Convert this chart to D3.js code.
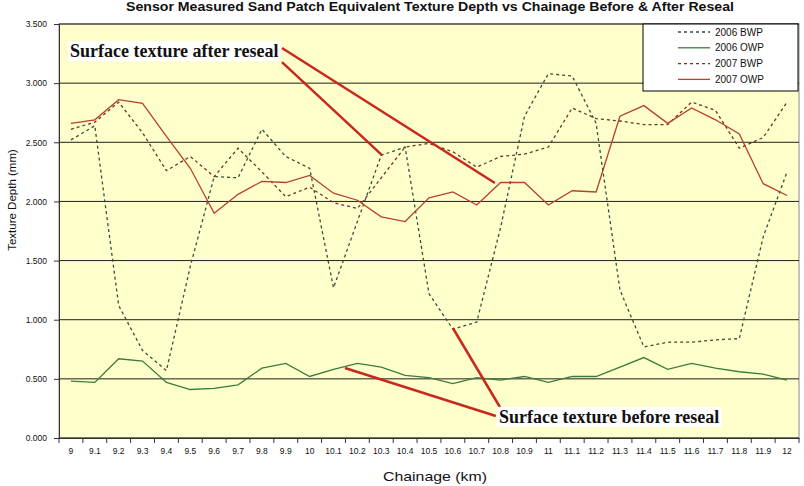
<!DOCTYPE html>
<html lang="en">
<head>
<meta charset="utf-8">
<script src="https://cdnjs.cloudflare.com/ajax/libs/d3/7.8.5/d3.min.js"></script>
<style>
    body { margin: 0; background: #fff; }
    svg { display: block; font-family: Arial, 'Liberation Sans', sans-serif; }
    .note { font-family: 'Times New Roman', 'Liberation Serif', serif; font-weight: bold; font-size: 18px; }
</style>
</head>
<body>
<svg width="804" height="486"></svg>
<script>
    // chainage categories (km) - also the x tick labels
    const chainage = ['9', '9.1', '9.2', '9.3', '9.4', '9.5', '9.6', '9.7', '9.8', '9.9',
        '10', '10.1', '10.2', '10.3', '10.4', '10.5', '10.6', '10.7', '10.8', '10.9',
        '11', '11.1', '11.2', '11.3', '11.4', '11.5', '11.6', '11.7', '11.8', '11.9', '12']

    // texture depth (mm)
    const bwp2006 = [2.52, 2.64, 1.12, 0.74, 0.57, 1.45, 2.21, 2.20, 2.61, 2.38,
        2.28, 1.27, 1.83, 2.39, 2.46, 1.22, 0.92, 0.98, 1.78, 2.72,
        3.08, 3.06, 2.66, 1.25, 0.77, 0.81, 0.81, 0.83, 0.84, 1.70, 2.25]
    const owp2006 = [0.48, 0.47, 0.67, 0.65, 0.47, 0.41, 0.42, 0.45, 0.59, 0.63,
        0.52, 0.58, 0.63, 0.60, 0.53, 0.51, 0.46, 0.51, 0.49, 0.52,
        0.47, 0.52, 0.52, 0.60, 0.68, 0.58, 0.63, 0.59, 0.56, 0.54, 0.49]
    const bwp2007 = [2.61, 2.67, 2.84, 2.58, 2.26, 2.38, 2.21, 2.45, 2.25, 2.04,
        2.12, 1.99, 1.94, 2.20, 2.46, 2.49, 2.42, 2.29, 2.38, 2.40,
        2.46, 2.79, 2.70, 2.68, 2.65, 2.65, 2.84, 2.77, 2.45, 2.54, 2.84]
    const owp2007 = [2.66, 2.69, 2.86, 2.83, 2.55, 2.28, 1.90, 2.06, 2.17, 2.16,
        2.22, 2.07, 2.01, 1.87, 1.83, 2.03, 2.08, 1.97, 2.16, 2.16,
        1.97, 2.09, 2.08, 2.72, 2.81, 2.66, 2.79, 2.69, 2.57, 2.15, 2.05]

    const yTicks = [0, 0.5, 1, 1.5, 2, 2.5, 3, 3.5]

    const series = [
        { name: '2006 BWP', values: bwp2006, color: '#34503a', dash: '3,3' },
        { name: '2006 OWP', values: owp2006, color: '#3a7d3a', dash: null },
        { name: '2007 BWP', values: bwp2007, color: '#6a3426', dash: '3,3' },
        { name: '2007 OWP', values: owp2007, color: '#b8402c', dash: null }
    ]

    // call-outs, positions in chart units (km, mm)
    const notes = [
        { text: 'Surface texture after reseal', km: 8.996, mm: 3.22,
          lines: [[9.884, 3.297, 10.776, 2.156], [9.884, 3.178, 10.303, 2.392]] },
        { text: 'Surface texture before reseal', km: 10.793, mm: 0.127,
          lines: [[10.797, 0.262, 10.600, 0.930], [10.780, 0.186, 10.148, 0.592]] }
    ]

    const plotL = 59, plotR = 799, plotT = 24, plotB = 438

    const svg = d3.select('svg')

    const x = d3.scaleBand().domain(chainage).range([plotL, plotR])
    const bw = x.bandwidth()
    const y = d3.scaleLinear().domain([0, 3.5]).range([plotB, plotT])
    const km = d3.scaleLinear().domain([9, 12]).range([x('9') + bw / 2, x('12') + bw / 2])

    // plot area
    svg.append('rect')
        .attr('x', plotL).attr('y', plotT)
        .attr('width', plotR - plotL).attr('height', plotB - plotT)
        .attr('fill', '#ffffcc')
        .attr('stroke', '#8a8a8a')

    svg.append('g')
        .selectAll('line')
        .data(yTicks)
        .enter()
        .append('line')
        .attr('x1', plotL).attr('x2', plotR)
        .attr('y1', d => y(d)).attr('y2', d => y(d))
        .attr('stroke', '#1e1e1e')
        .attr('stroke-width', 1)

    // x axis: labels centred in bands, ticks on band edges
    const xAxis = d3.axisBottom(x).tickSize(0).tickPadding(10)
    const gx = svg.append('g')
        .attr('transform', 'translate(0,' + plotB + ')')
        .call(xAxis)
    gx.select('.domain').attr('stroke', '#333')
    gx.selectAll('text').attr('font-size', '8.5px').attr('fill', '#111')

    svg.append('g')
        .selectAll('line')
        .data(chainage.concat(['end']))
        .enter()
        .append('line')
        .attr('x1', d => d === 'end' ? plotR : x(d))
        .attr('x2', d => d === 'end' ? plotR : x(d))
        .attr('y1', plotB).attr('y2', plotB + 5)
        .attr('stroke', '#333')

    const yAxis = d3.axisLeft(y).tickValues(yTicks).tickFormat(d3.format('.3f')).tickSize(5).tickPadding(7)
    const gy = svg.append('g')
        .attr('transform', 'translate(' + plotL + ',0)')
        .call(yAxis)
    gy.select('.domain').attr('stroke', '#333')
    gy.selectAll('line').attr('stroke', '#333')
    gy.selectAll('text').attr('font-size', '8.5px').attr('fill', '#111')

    // series
    const line = d3.line()
        .x((d, i) => x(chainage[i]) + bw / 2)
        .y(d => y(d))

    svg.append('g')
        .selectAll('path')
        .data(series)
        .enter()
        .append('path')
        .attr('d', d => line(d.values))
        .attr('fill', 'none')
        .attr('stroke', d => d.color)
        .attr('stroke-width', 1.3)
        .attr('stroke-dasharray', d => d.dash)

    // call-outs
    notes.forEach(n => {
        const g = svg.append('g')
        g.selectAll('line')
            .data(n.lines)
            .enter()
            .append('line')
            .attr('x1', d => km(d[0])).attr('y1', d => y(d[1]))
            .attr('x2', d => km(d[2])).attr('y2', d => y(d[3]))
            .attr('stroke', '#c8281e')
            .attr('stroke-width', 2.5)
        const bg = g.append('rect').attr('fill', '#fff')
        const t = g.append('text')
            .attr('class', 'note')
            .attr('x', km(n.km)).attr('y', y(n.mm))
            .attr('fill', '#111')
            .text(n.text)
        const b = t.node().getBBox()
        bg.attr('x', b.x - 2).attr('y', b.y).attr('width', b.width + 4).attr('height', b.height)
    })

    // legend
    const lg = svg.append('g').attr('transform', 'translate(643,24)')
    lg.append('rect')
        .attr('width', 155).attr('height', 67)
        .attr('fill', '#fff').attr('stroke', '#000')
    const item = lg.selectAll('.item')
        .data(series)
        .enter()
        .append('g')
        .attr('class', 'item')
        .attr('transform', (d, i) => 'translate(0,' + (8 + i * 15.8) + ')')
    item.append('line')
        .attr('x1', 35).attr('x2', 67)
        .attr('stroke', d => d.color)
        .attr('stroke-width', 1.3)
        .attr('stroke-dasharray', d => d.dash)
    item.append('text')
        .attr('x', 72).attr('dy', '0.35em')
        .attr('font-size', '10px')
        .attr('fill', '#111')
        .text(d => d.name)

    // titles
    svg.append('text')
        .attr('x', 430).attr('y', 11)
        .attr('text-anchor', 'middle')
        .attr('font-size', '13px').attr('font-weight', 'bold')
        .attr('textLength', 608).attr('lengthAdjust', 'spacingAndGlyphs')
        .attr('fill', '#111')
        .text('Sensor Measured Sand Patch Equivalent Texture Depth vs Chainage Before & After Reseal')

    svg.append('text')
        .attr('transform', 'translate(16,200) rotate(-90)')
        .attr('text-anchor', 'middle')
        .attr('font-size', '11.5px')
        .attr('fill', '#111')
        .text('Texture Depth (mm)')

    svg.append('text')
        .attr('x', 435).attr('y', 481)
        .attr('text-anchor', 'middle')
        .attr('font-size', '13.5px')
        .attr('textLength', 104).attr('lengthAdjust', 'spacingAndGlyphs')
        .attr('fill', '#111')
        .text('Chainage (km)')
</script>
</body>
</html>
